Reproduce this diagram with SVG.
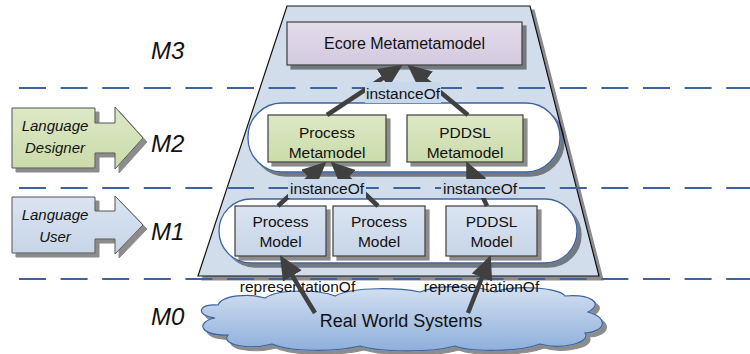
<svg xmlns="http://www.w3.org/2000/svg" width="750" height="354" viewBox="0 0 750 354">
<style>
text{font-family:"Liberation Sans",Arial,sans-serif;fill:#111}
.m{font-size:24px;font-style:italic}
.box{stroke:#3c3c3c;stroke-width:1.2}
.lbl{font-size:15.5px;text-anchor:middle}
.cont{fill:#fff;stroke:#3b64a0;stroke-width:1.3}
.dash{stroke:#3b64a0;stroke-width:2;stroke-dasharray:27 14.6;fill:none}
.arr{stroke:#404040;stroke-width:4.5;fill:none;marker-end:url(#ah)}
.bg{fill:#c9d7ea}
.call{font-size:15px;font-style:italic;text-anchor:middle}
</style>
<defs>
<filter id="sh" x="-10%" y="-10%" width="130%" height="140%">
<feDropShadow dx="4" dy="4" stdDeviation="0.6" flood-color="#000" flood-opacity="0.45"/>
</filter>
<marker id="ah" markerUnits="userSpaceOnUse" markerWidth="26" markerHeight="24" refX="10" refY="11" orient="auto">
<path d="M0,0 L24,11 L0,22 Z" fill="#404040"/>
</marker>
<linearGradient id="gP" x1="0" y1="0" x2="0" y2="1"><stop offset="0" stop-color="#e4dcec"/><stop offset="1" stop-color="#d3c9de"/></linearGradient>
<linearGradient id="gG" x1="0" y1="0" x2="0" y2="1"><stop offset="0" stop-color="#dde8c6"/><stop offset="1" stop-color="#cbdcaa"/></linearGradient>
<linearGradient id="gB" x1="0" y1="0" x2="0" y2="1"><stop offset="0" stop-color="#dbe4f1"/><stop offset="1" stop-color="#c6d5e8"/></linearGradient>
<linearGradient id="gC" x1="0" y1="0" x2="0" y2="1"><stop offset="0" stop-color="#d3e0f1"/><stop offset="1" stop-color="#8eafdb"/></linearGradient>
</defs>

<g id="pyramid">
<polygon points="287,6 530,6 599,276 198,276" fill="#d1ddeb" stroke="#111" stroke-width="1.2" filter="url(#sh)"/>
</g>

<g id="levels">
<line class="dash" x1="19" y1="88" x2="750" y2="88"/>
<line class="dash" x1="19" y1="188" x2="750" y2="188"/>
<line class="dash" x1="19" y1="279" x2="750" y2="279"/>
<text class="m" x="151" y="59">M3</text>
<text class="m" x="151" y="152">M2</text>
<text class="m" x="151" y="240">M1</text>
<text class="m" x="151" y="325">M0</text>
</g>

<g id="designer">
<path d="M12,108 H95 V123 H115 V107 L143,138 L115,169 V153 H95 V168 H12 Z" fill="url(#gG)" stroke="#555" stroke-width="1" filter="url(#sh)"/>
<text class="call" x="55" y="131">Language</text>
<text class="call" x="55" y="153">Designer</text>
</g>
<g id="user">
<path d="M12,197 H95 V211 H115 V196 L143,225 L115,254 V239 H95 V253 H12 Z" fill="url(#gB)" stroke="#555" stroke-width="1" filter="url(#sh)"/>
<text class="call" x="55" y="220">Language</text>
<text class="call" x="55" y="242">User</text>
</g>

<g id="m2container"><rect class="cont" x="248" y="103" width="312" height="69" rx="34" filter="url(#sh)"/></g>
<g id="m1container"><rect class="cont" x="219" y="199" width="358" height="64" rx="32" filter="url(#sh)"/></g>

<g id="ecore">
<rect class="box" x="287" y="22" width="235" height="43" fill="url(#gP)" filter="url(#sh)"/>
<text x="404.5" y="49" font-size="16" text-anchor="middle">Ecore Metametamodel</text>
</g>
<g id="processMetamodel">
<rect class="box" x="268" y="115" width="118" height="47" fill="url(#gG)" filter="url(#sh)"/>
<text class="lbl" x="327" y="138">Process</text>
<text class="lbl" x="327" y="158">Metamodel</text>
</g>
<g id="pddslMetamodel">
<rect class="box" x="407" y="115" width="116" height="47" fill="url(#gG)" filter="url(#sh)"/>
<text class="lbl" x="465" y="138">PDDSL</text>
<text class="lbl" x="465" y="158">Metamodel</text>
</g>
<g id="processModel1">
<rect class="box" x="235" y="206" width="91" height="50" fill="url(#gB)" filter="url(#sh)"/>
<text class="lbl" x="280.5" y="227">Process</text>
<text class="lbl" x="280.5" y="247">Model</text>
</g>
<g id="processModel2">
<rect class="box" x="333" y="206" width="92" height="50" fill="url(#gB)" filter="url(#sh)"/>
<text class="lbl" x="379" y="227">Process</text>
<text class="lbl" x="379" y="247">Model</text>
</g>
<g id="pddslModel">
<rect class="box" x="446" y="206" width="91" height="50" fill="url(#gB)" filter="url(#sh)"/>
<text class="lbl" x="491.5" y="227">PDDSL</text>
<text class="lbl" x="491.5" y="247">Model</text>
</g>

<g id="realWorld">
<path d="M215,318 C195,316 198,303 218,305 C222,295 250,293 265,298 C280,288 320,290 335,296 C355,286 400,288 420,292 C440,284 480,286 495,292 C515,284 560,288 565,296 C590,294 605,303 588,312 C610,318 605,332 585,333 C592,343 560,350 540,344 C520,352 470,352 455,346 C430,353 380,352 360,346 C335,352 290,352 272,344 C250,350 220,345 228,335 C200,336 195,322 215,318 Z" fill="url(#gC)" stroke="#3b64a0" stroke-width="1.2" filter="url(#sh)"/>
<text x="401" y="327" font-size="18" text-anchor="middle">Real World Systems</text>
</g>

<g id="connectors">
<text class="lbl" x="297.5" y="292" font-size="16">representationOf</text>
<text class="lbl" x="481.5" y="292" font-size="16">representationOf</text>
<line class="arr" x1="327" y1="115" x2="391" y2="72.6"/>
<line class="arr" x1="468" y1="115" x2="418.2" y2="73.7"/>
<line class="arr" x1="278" y1="206" x2="316.1" y2="171.1"/>
<line class="arr" x1="378" y1="206" x2="340.8" y2="171.2"/>
<line class="arr" x1="487" y1="206" x2="472.1" y2="173.9"/>
<line class="arr" x1="315" y1="313" x2="287.2" y2="267.3"/>
<line class="arr" x1="468" y1="313" x2="485.6" y2="268.2"/>
<rect class="bg" x="365" y="82" width="76" height="21"/>
<text class="lbl" x="403" y="99">instanceOf</text>
<rect class="bg" x="288" y="179" width="78" height="19"/>
<text class="lbl" x="327" y="194">instanceOf</text>
<rect class="bg" x="441" y="179" width="78" height="19"/>
<text class="lbl" x="480" y="194">instanceOf</text>
</g>
</svg>
